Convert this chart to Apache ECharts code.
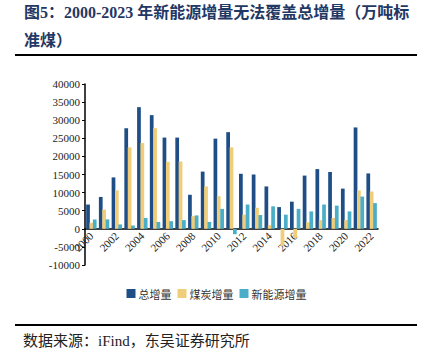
<!DOCTYPE html>
<html><head><meta charset="utf-8">
<script src="https://cdn.jsdelivr.net/npm/echarts@6/dist/echarts.min.js"></script>
<style>html,body{margin:0;padding:0;background:#fff}#c{width:433px;height:361px}</style>
</head><body><div id="c"></div>
<script>
var years = ['2000','2001','2002','2003','2004','2005','2006','2007','2008','2009','2010','2011','2012','2013','2014','2015','2016','2017','2018','2019','2020','2021','2022'];
var totalInc = [6700,8800,14200,27800,33600,31400,25200,25200,9400,15800,24900,26700,15200,15000,11700,6000,7500,14700,16500,15700,11100,28000,15300];
var coalInc = [1650,5300,10600,22500,23700,27800,18500,18600,3500,11700,9000,22500,3900,5800,1000,-4800,-2500,1800,2400,3000,2400,10600,10300];
var newEnergyInc = [2570,2600,1200,900,3000,1900,2100,2400,3700,1900,5500,-1500,6700,3800,6200,3900,5500,4800,6700,6400,4800,8900,7100];
var yTicks = {min:-10000, max:40000, interval:5000};

var chart = echarts.init(document.getElementById('c'), null, {renderer:'svg'});
var serif = '"Liberation Serif","Noto Sans CJK SC",serif';
chart.setOption({
  animation:false,
  backgroundColor:'#fff',
  title:[{
    text:'图5：2000-2023 年新能源增量无法覆盖总增量（万吨标\n准煤）',
    left:24, top:-2, padding:0,
    textStyle:{fontFamily:serif, fontWeight:'bold', fontSize:16, color:'#1f3864', lineHeight:28}
  },{
    text:'数据来源：iFind，东吴证券研究所',
    left:23, top:333, padding:0,
    textStyle:{fontFamily:serif, fontWeight:'normal', fontSize:15, color:'#222'}
  }],
  graphic:[
    {type:'line', shape:{x1:15,y1:55,x2:417,y2:55}, style:{stroke:'#000',lineWidth:2}},
    {type:'line', shape:{x1:15,y1:325,x2:417,y2:325}, style:{stroke:'#000',lineWidth:2}}
  ],
  legend:{
    data:['总增量','煤炭增量','新能源增量'],
    left:'center', top:288, padding:0, itemWidth:9, itemHeight:9, itemGap:6,
    icon:'rect',
    textStyle:{fontFamily:'"Noto Sans CJK SC",sans-serif', fontSize:11, color:'#333', padding:[0,0,0,-2]}
  },
  grid:{left:85, right:55, top:84, bottom:96, containLabel:false},
  xAxis:{
    type:'category', data:years,
    axisLine:{onZero:true, lineStyle:{color:'#000', width:1.5}},
    axisTick:{interval:1, length:4, lineStyle:{color:'#000'}},
    axisLabel:{interval:1, rotate:45, fontFamily:serif, fontSize:11, color:'#222', margin:-31}
  },
  yAxis:{
    type:'value', min:yTicks.min, max:yTicks.max, interval:yTicks.interval,
    splitLine:{show:false},
    axisLine:{show:true, lineStyle:{color:'#000', width:1.5}},
    axisTick:{show:true, length:3, lineStyle:{color:'#000'}},
    axisLabel:{fontFamily:serif, fontSize:11, color:'#222', margin:5, formatter:function(v){return String(v);}}
  },
  series:[
    {name:'总增量', type:'bar', data:totalInc, itemStyle:{color:'#1f4e86'}, barCategoryGap:'18%', barGap:'-10%'},
    {name:'煤炭增量', type:'bar', data:coalInc, itemStyle:{color:'#f0cd78'}, barCategoryGap:'18%', barGap:'-10%'},
    {name:'新能源增量', type:'bar', data:newEnergyInc, itemStyle:{color:'#4aaec8'}, barCategoryGap:'18%', barGap:'-10%'}
  ]
});
</script></body></html>
